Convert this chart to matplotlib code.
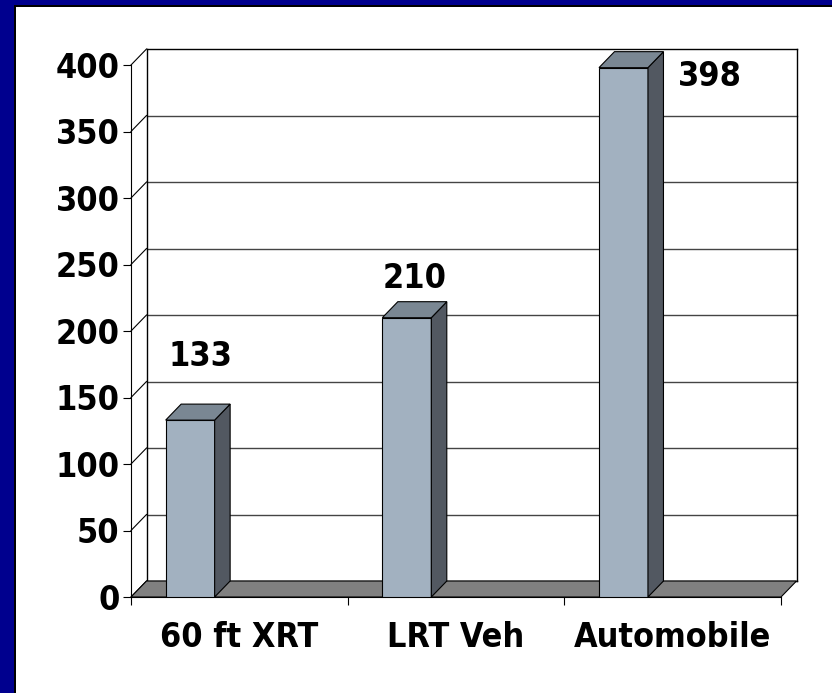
import matplotlib
matplotlib.use("Agg")
import matplotlib.pyplot as plt
from matplotlib.patches import Polygon, Rectangle
import matplotlib.transforms as mtransforms
from matplotlib import font_manager as fm
from matplotlib.textpath import TextPath

# ---- data ----
categories = ["60 ft XRT", "LRT Veh", "Automobile"]
values = [133, 210, 398]
value_labels = ["133", "210", "398"]
yticks = [0, 50, 100, 150, 200, 250, 300, 350, 400]

# ---- layout ----
W, H = 832, 693
DX, DY = 15.5, 16.0          # depth offset in pixels
BAR_SHIFT = -0.227           # bar centre relative to category centre
BAR_W = 0.226
label_anchor = [(-0.18, 173.0), (0.81, 231.5), (2.17, 383.5)]

FRONT = "#A2B1C0"
SIDE = "#525861"
TOP = "#7A8793"
FLOOR = "#808080"
GRID = "#444444"
NAVY = "#00008E"

# ---- font choice: prefer a condensed / narrow bold face ----
def pick_font():
    best = None
    for f in fm.fontManager.ttflist:
        narrow = ("Narrow" in f.name or "Condensed" in f.name or
                  str(f.stretch) in ("condensed", "semi-condensed",
                                     "extra-condensed", "ultra-condensed"))
        if not narrow:
            continue
        w = f.weight
        try:
            w = int(w)
        except (TypeError, ValueError):
            w = {"bold": 700, "heavy": 800, "black": 900, "semibold": 600,
                 "demibold": 600}.get(str(w).lower(), 400)
        score = abs(w - 700)
        if "Italic" in f.fname or "Oblique" in f.fname or str(f.style) != "normal":
            continue
        if best is None or score < best[0]:
            best = (score, f)
    if best is not None and best[0] <= 100:
        return fm.FontProperties(fname=best[1].fname)
    return fm.FontProperties(family="DejaVu Sans", weight="bold")


FP = pick_font()
# size so that digit height ~28.5 px and "Automobile" ~177 px wide
tp0 = TextPath((0, 0), "0", size=100, prop=FP).get_extents()
tpa = TextPath((0, 0), "Automobile", size=100, prop=FP).get_extents()
px_per_unit = 1.0 / 72.0  # path units at size 100 -> px at size s: u*s/100*100/72
size_h = 28.5 / (tp0.height * px_per_unit)
size_w = 177.0 / (tpa.width * px_per_unit)
FSIZE = min(size_h, (size_h * size_w) ** 0.5)
CAP = tp0.height * px_per_unit * FSIZE  # cap height in px

fig = plt.figure(figsize=(W / 100, H / 100), dpi=100)
fig.patch.set_facecolor("white")

ax = fig.add_axes([131 / W, (H - 597) / H, 650 / W, 532 / H])
ax.set_xlim(-0.5, 2.5)
ax.set_ylim(0, 400)
ax.patch.set_visible(False)
for s in ["top", "right"]:
    ax.spines[s].set_visible(False)
for s in ["left", "bottom"]:
    ax.spines[s].set_linewidth(0.8)
    ax.spines[s].set_color("black")
    ax.spines[s].set_zorder(1)

ax.set_yticks(yticks)
ax.set_yticklabels([])
ax.set_xticks([-0.5, 0.5, 1.5, 2.5])
ax.set_xticklabels([])
ax.tick_params(axis="both", direction="out", length=5.8, width=0.8, color="black")

ident = mtransforms.IdentityTransform()


def disp(x, y, depth=0.0):
    px, py = ax.transData.transform((x, y))
    return (px + depth * DX, py + depth * DY)


def poly(pts, fc, ec="black", lw=0.8, z=2):
    p = Polygon(pts, closed=True, facecolor=fc, edgecolor=ec, linewidth=lw,
                transform=ident, clip_on=False, zorder=z, joinstyle="miter")
    ax.add_patch(p)


def line(p0, p1, color="black", lw=0.8, z=1):
    ax.add_line(plt.Line2D([p0[0], p1[0]], [p0[1], p1[1]], color=color, lw=lw,
                           transform=ident, clip_on=False, zorder=z))


x0, x1 = ax.get_xlim()

# back wall gridlines and left wall diagonals
for v in yticks:
    c = "black" if v in (0, 400) else GRID
    line(disp(x0, v, 1), disp(x1, v, 1), color=c, lw=1.0)
    line(disp(x0, v, 0), disp(x0, v, 1), color="black", lw=0.8)
# back wall verticals
line(disp(x0, 0, 1), disp(x0, 400, 1), lw=1.0)
line(disp(x1, 0, 1), disp(x1, 400, 1), lw=1.0)

# floor
poly([disp(x0, 0, 0), disp(x1, 0, 0), disp(x1, 0, 1), disp(x0, 0, 1)], FLOOR, z=1.5)

# bars
for i, v in enumerate(values):
    c = i + BAR_SHIFT
    b0, b1 = c - BAR_W / 2, c + BAR_W / 2
    ax.bar([c], [v], width=BAR_W, color=FRONT, edgecolor="black",
           linewidth=0.8, zorder=3)
    poly([disp(b1, 0, 0), disp(b1, v, 0), disp(b1, v, 1), disp(b1, 0, 1)], SIDE, z=3)
    poly([disp(b0, v, 0), disp(b1, v, 0), disp(b1, v, 1), disp(b0, v, 1)], TOP, z=3)

TXT = dict(fontproperties=FP, fontsize=FSIZE, color="black", clip_on=False)

# y tick labels (digit centres on the gridline level)
ytr = mtransforms.offset_copy(ax.transData, fig=fig, x=-11.5, y=-CAP / 2, units="dots")
for v in yticks:
    ax.text(x0, v, str(v), transform=ytr, ha="right", va="baseline", **TXT)

# category labels (baseline ~55 px below the axis)
xtr = mtransforms.offset_copy(ax.transData, fig=fig, x=0, y=-(24 + CAP), units="dots")
for i, cat in enumerate(categories):
    ax.text(i, 0, cat, transform=xtr, ha="center", va="baseline", **TXT)

# value labels
vtr = mtransforms.offset_copy(ax.transData, fig=fig, x=0, y=(28.5 - CAP) / 2, units="dots")
for (lx, ly), lab in zip(label_anchor, value_labels):
    ax.text(lx, ly, lab, transform=vtr, ha="center", va="baseline", zorder=5, **TXT)

# navy frame on left and top
fig.add_artist(Rectangle((0, 0), 14 / W, 1, transform=fig.transFigure,
                         facecolor=NAVY, edgecolor="none", zorder=10))
fig.add_artist(Rectangle((0, 1 - 5 / H), 1, 5 / H, transform=fig.transFigure,
                         facecolor=NAVY, edgecolor="none", zorder=10))
fig.add_artist(Rectangle((14 / W, 0), 2 / W, 1 - 5 / H, transform=fig.transFigure,
                         facecolor="black", edgecolor="none", zorder=10))
fig.add_artist(Rectangle((14 / W, 1 - 7 / H), 1 - 14 / W, 2 / H, transform=fig.transFigure,
                         facecolor="black", edgecolor="none", zorder=10))

fig.savefig("out.png", dpi=100, facecolor="white")
